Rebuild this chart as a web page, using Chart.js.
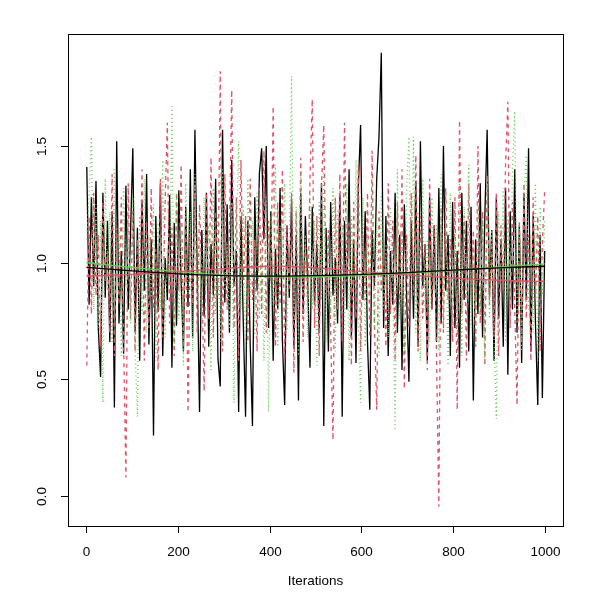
<!DOCTYPE html>
<html>
<head>
<meta charset="utf-8">
<script src="https://cdn.jsdelivr.net/npm/chart.js@4.4.0/dist/chart.umd.min.js"></script>
<style>
  html, body { margin: 0; padding: 0; background: #fff; }
  #wrap { width: 594px; height: 594px; }
</style>
</head>
<body>
<div id="wrap"><canvas id="trace" width="594" height="594"></canvas></div>
<script>
// chain traces, one value every ~5 iterations
const chain1 = [
  1.41, 0.82, 1.28, 0.90, 1.35, 0.72, 0.51, 1.30, 0.85, 1.18,
  0.66, 1.22, 0.38, 1.52, 0.74, 1.05, 0.61, 1.33, 0.80, 1.12,
  1.49, 0.70, 1.15, 0.58, 1.26, 0.88, 1.38, 0.65, 1.10, 0.26,
  1.20, 0.79, 1.34, 0.60, 1.02, 0.84, 1.29, 0.55, 1.17, 0.73,
  1.31, 0.92, 0.62, 1.24, 0.81, 1.40, 0.68, 1.57, 0.95, 0.36,
  1.14, 0.77, 1.30, 0.64, 1.08, 0.86, 1.36, 0.59, 0.47, 1.57,
  0.83, 1.25, 0.70, 1.44, 0.90, 1.05, 0.36, 1.20, 0.75, 0.34,
  1.18, 0.66, 0.30, 1.28, 0.88, 1.38, 1.49, 1.10, 1.50, 0.72,
  1.22, 0.58, 1.06, 0.80, 1.32, 0.67, 0.39, 1.16, 0.85, 1.27,
  0.63, 1.12, 0.41, 1.30, 0.78, 1.20, 0.92, 0.55, 1.24, 0.82,
  1.08, 0.70, 1.34, 0.30, 1.15, 0.62, 1.26, 0.86, 1.02, 0.74,
  1.29, 0.34, 1.18, 0.80, 1.40, 0.68, 1.10, 0.57, 1.32, 1.59,
  0.84, 1.22, 0.66, 0.37, 1.14, 0.90, 1.36, 1.54, 1.90, 0.72,
  1.20, 0.60, 1.05, 0.82, 1.30, 0.70, 1.12, 0.54, 1.25, 0.86,
  0.49, 1.18, 0.76, 1.35, 0.64, 1.52, 0.90, 1.08, 0.58, 1.28,
  0.80, 1.16, 0.66, 1.32, 0.74, 1.50, 0.88, 1.12, 0.60, 1.26,
  0.72, 1.05, 0.55, 1.30, 0.84, 1.18, 0.62, 1.24, 0.41, 1.10,
  0.78, 1.34, 0.68, 1.20, 1.57, 0.86, 1.14, 0.58, 1.28, 0.76,
  1.10, 0.64, 1.32, 0.52, 1.22, 0.80, 1.40, 0.70, 1.16, 0.57,
  1.30, 0.84, 1.49, 0.62, 1.20, 0.74, 0.39, 1.12, 0.42, 1.05
];
const chain2 = [
  0.56, 1.20, 0.78, 1.30, 0.86, 1.12, 0.64, 1.26, 0.92, 1.05,
  0.70, 1.38, 0.60, 1.15, 0.82, 1.28, 0.66, 0.08, 1.34, 0.76,
  1.22, 0.62, 1.10, 0.85, 1.40, 0.58, 1.18, 0.72, 1.32, 0.80,
  1.06, 0.54, 1.36, 0.68, 1.24, 1.60, 0.74, 1.15, 0.60, 1.30,
  0.88, 1.42, 0.65, 1.20, 0.36, 1.12, 0.82, 1.34, 0.70, 1.25,
  0.92, 0.45, 1.30, 0.76, 1.45, 0.68, 1.22, 0.86, 1.82, 0.62,
  1.38, 0.80, 1.14, 1.74, 0.72, 1.28, 0.58, 1.44, 0.90, 1.20,
  0.66, 1.36, 0.84, 1.10, 0.62, 1.32, 0.78, 1.48, 0.70, 1.18,
  0.92, 1.67, 0.64, 1.26, 0.82, 1.40, 0.58, 1.16, 0.88, 1.30,
  0.53, 1.22, 0.74, 1.45, 0.66, 1.10, 0.84, 1.36, 1.70, 0.72,
  1.20, 0.60, 1.32, 1.59, 0.86, 1.14, 0.70, 0.24, 1.28, 0.80,
  1.38, 0.66, 1.60, 0.92, 1.18, 0.56, 1.26, 0.76, 1.42, 0.62,
  1.12, 0.84, 1.30, 0.68, 1.48, 0.74, 0.37, 1.22, 0.88, 1.06,
  0.64, 1.34, 0.78, 1.18, 0.58, 1.26, 0.82, 1.40, 0.46, 1.12,
  0.72, 1.30, 0.86, 1.46, 0.62, 1.20, 0.76, 1.08, 0.54, 1.36,
  0.80, 1.16, 0.60, -0.045, 1.24, 0.70, 1.32, 0.84, 1.10, 0.66,
  1.28, 0.37, 1.61, 0.78, 1.20, 0.58, 1.34, 0.86, 1.14, 0.64,
  1.50, 0.74, 1.22, 0.56, 1.38, 0.82, 1.10, 0.68, 1.30, 0.60,
  1.16, 0.88, 1.42, 1.69, 0.72, 1.26, 0.80, 0.39, 1.18, 0.66,
  1.34, 0.76, 1.12, 0.58, 1.28, 0.84, 1.20, 0.62, 1.08, 1.31
];
const chain3 = [
  1.10, 1.30, 1.54, 0.80, 1.25, 0.72, 1.18, 0.40, 1.36, 0.88,
  1.22, 0.66, 1.40, 0.84, 1.15, 0.60, 1.32, 0.90, 1.08, 0.74,
  1.28, 0.62, 0.34, 1.20, 0.78, 1.36, 0.70, 1.12, 0.85, 1.25,
  0.58, 1.18, 0.80, 1.44, 0.68, 1.06, 0.92, 1.67, 0.64, 1.30,
  0.76, 1.14, 0.56, 1.34, 0.86, 1.22, 0.62, 1.38, 0.82, 1.10,
  0.70, 1.28, 0.90, 1.16, 0.54, 1.32, 0.78, 1.20, 0.66, 1.40,
  0.88, 1.08, 0.72, 1.26, 0.40, 1.14, 1.52, 0.80, 1.24, 0.60,
  1.36, 0.84, 1.18, 0.68, 1.30, 0.76, 1.12, 0.58, 1.28, 0.36,
  1.20, 0.82, 1.42, 0.64, 1.16, 0.90, 1.34, 0.70, 1.06, 1.80,
  0.74, 1.24, 0.60, 1.38, 0.86, 1.12, 0.68, 1.30, 0.80, 1.18,
  0.56, 1.26, 0.84, 1.40, 0.66, 1.10, 0.78, 1.32, 0.62, 1.22,
  0.88, 1.16, 0.70, 1.34, 0.58, 1.20, 0.82, 1.44, 0.74, 0.40,
  1.28, 0.64, 1.12, 0.86, 1.36, 0.72, 1.18, 0.60, 1.30, 0.80,
  1.08, 0.68, 1.24, 0.90, 0.28, 1.40, 0.76, 1.14, 0.62, 1.32,
  1.54, 0.84, 1.54, 0.70, 1.22, 0.58, 1.36, 0.80, 1.10, 0.66,
  1.28, 0.88, 1.16, 0.62, 1.38, 0.74, 1.20, 0.56, 1.30, 0.84,
  1.12, 0.70, 1.34, 0.60, 1.24, 0.86, 1.42, 0.72, 1.08, 0.64,
  1.26, 0.80, 1.18, 0.58, 1.36, 0.76, 1.14, 0.68, 0.33, 1.22,
  0.90, 1.32, 0.66, 1.20, 0.84, 1.40, 1.65, 0.74, 1.16, 0.62,
  1.28, 1.46, 0.80, 1.12, 0.70, 1.34, 0.58, 1.24, 0.86, 1.18
];

// lowess smooths, read at every 100 iterations
const smoothIters = [0, 100, 200, 300, 400, 500, 600, 700, 800, 900, 1000];
const smooth1 = [0.980, 0.965, 0.952, 0.945, 0.943, 0.945, 0.950, 0.958, 0.968, 0.978, 0.985];
const smooth2 = [0.943, 0.950, 0.962, 0.975, 0.985, 0.978, 0.962, 0.948, 0.935, 0.925, 0.920];
const smooth3 = [1.000, 0.980, 0.962, 0.948, 0.940, 0.940, 0.945, 0.955, 0.968, 0.982, 0.995];

const xTicks = [0, 200, 400, 600, 800, 1000];
const yTicks = [0.0, 0.5, 1.0, 1.5];

// R default palette
const colBlack = '#000000';
const colRed = '#DF536B';
const colGreen = '#61D04F';

// iteration number for each stored sample (1 .. 1000)
const iterations = chain1.map((_, i) => 1 + i * 999 / (chain1.length - 1));

function pts(xs, ys) {
    return ys.map((v, i) => ({ x: xs[i], y: v }));
}

const FONT = '13.5px "Liberation Sans", Arial, Helvetica, sans-serif';

// draw the R-style box, ticks and labels from the chart's own scales
const rAxes = {
    id: 'rAxes',
    afterDraw(chart) {
        const ctx = chart.ctx;
        const a = chart.chartArea;
        const xs = chart.scales.x;
        const ys = chart.scales.y;
        ctx.save();
        ctx.strokeStyle = '#000';
        ctx.lineWidth = 1;
        ctx.setLineDash([]);
        ctx.strokeRect(Math.round(a.left) + 0.5, Math.round(a.top) + 0.5,
            Math.round(a.right - a.left), Math.round(a.bottom - a.top));

        ctx.fillStyle = '#000';
        ctx.font = FONT;

        // x axis
        ctx.textAlign = 'center';
        ctx.textBaseline = 'middle';
        xTicks.forEach(t => {
            const px = Math.round(xs.getPixelForValue(t)) + 0.5;
            ctx.beginPath();
            ctx.moveTo(px, a.bottom);
            ctx.lineTo(px, a.bottom + 7);
            ctx.stroke();
            ctx.fillText(String(t), px, a.bottom + 26);
        });
        ctx.fillText('Iterations', (a.left + a.right) / 2, a.bottom + 55);

        // y axis, labels turned like R
        yTicks.forEach(t => {
            const py = Math.round(ys.getPixelForValue(t)) + 0.5;
            ctx.beginPath();
            ctx.moveTo(a.left, py);
            ctx.lineTo(a.left - 7, py);
            ctx.stroke();
            ctx.save();
            ctx.translate(a.left - 26, py);
            ctx.rotate(-Math.PI / 2);
            ctx.fillText(t.toFixed(1), 0, 0);
            ctx.restore();
        });
        ctx.restore();
    }
};

const traceStyle = { borderWidth: 1.3, pointRadius: 0, tension: 0, fill: false };

new Chart(document.getElementById('trace'), {
    type: 'line',
    data: {
        datasets: [
            { label: 'smooth 1', data: pts(smoothIters, smooth1), borderColor: colBlack, borderWidth: 1.3, pointRadius: 0, tension: 0.4, order: 0 },
            { label: 'smooth 2', data: pts(smoothIters, smooth2), borderColor: colRed, borderWidth: 1.3, pointRadius: 0, tension: 0.4, order: 0 },
            { label: 'smooth 3', data: pts(smoothIters, smooth3), borderColor: colGreen, borderWidth: 1.3, pointRadius: 0, tension: 0.4, order: 0 },
            Object.assign({ label: 'chain 3', data: pts(iterations, chain3), borderColor: colGreen, borderDash: [1, 3], order: 1 }, traceStyle),
            Object.assign({ label: 'chain 2', data: pts(iterations, chain2), borderColor: colRed, borderDash: [4, 4], order: 2 }, traceStyle),
            Object.assign({ label: 'chain 1', data: pts(iterations, chain1), borderColor: colBlack, order: 3 }, traceStyle)
        ]
    },
    options: {
        responsive: false,
        animation: false,
        events: [],
        layout: { padding: { left: 68, right: 31, top: 34, bottom: 68 } },
        plugins: { legend: { display: false }, tooltip: { enabled: false } },
        scales: {
            x: { type: 'linear', min: -40, max: 1040, display: false },
            y: { type: 'linear', min: -0.128, max: 1.98, display: false }
        }
    },
    plugins: [rAxes]
});
</script>
</body>
</html>
